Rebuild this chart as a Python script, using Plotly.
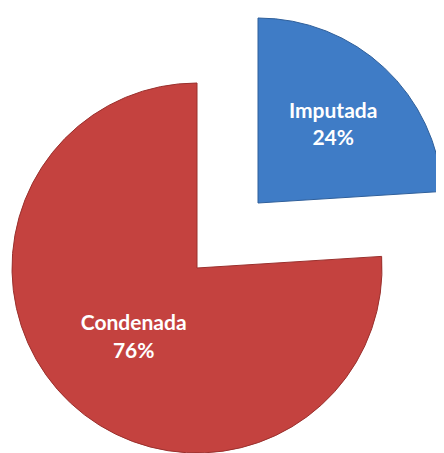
import plotly.graph_objects as go

labels = ["Imputada", "Condenada"]
values = [24, 76]
colors = ["#3F7CC6", "#C4423F"]
edges = ["#2F5F9A", "#9A302D"]

W, H = 436, 445  # page adds an 8px body margin

fig = go.Figure()

# two copies of the same pie: one shows the red slice, the other the pulled-out blue one
domains = [
    dict(x=[4 / W, 374 / W], y=[0, 370 / H]),         # Condenada
    dict(x=[65 / W, 435 / W], y=[65 / H, 435 / H]),   # Imputada
]
shown = [1, 0]

for dom, idx in zip(domains, shown):
    slice_colors = ["rgba(0,0,0,0)"] * len(labels)
    slice_colors[idx] = colors[idx]
    line_colors = ["rgba(0,0,0,0)"] * len(labels)
    line_colors[idx] = edges[idx]
    templates = [""] * len(labels)
    templates[idx] = "%{label}<br>%{percent:.0%}"
    fig.add_trace(
        go.Pie(
            labels=labels,
            values=values,
            sort=False,
            direction="clockwise",
            rotation=0,
            domain=dom,
            marker=dict(colors=slice_colors, line=dict(width=1, color=line_colors)),
            texttemplate=templates,
            textposition="inside",
            insidetextorientation="horizontal",
            textfont=dict(family="Lato", size=21, color="white", weight="bold"),
            hoverinfo="skip",
            showlegend=False,
        )
    )

fig.update_layout(
    width=W,
    height=H,
    margin=dict(l=0, r=0, t=0, b=0),
    paper_bgcolor="white",
    plot_bgcolor="white",
    showlegend=False,
)

fig.write_html("out.html")
